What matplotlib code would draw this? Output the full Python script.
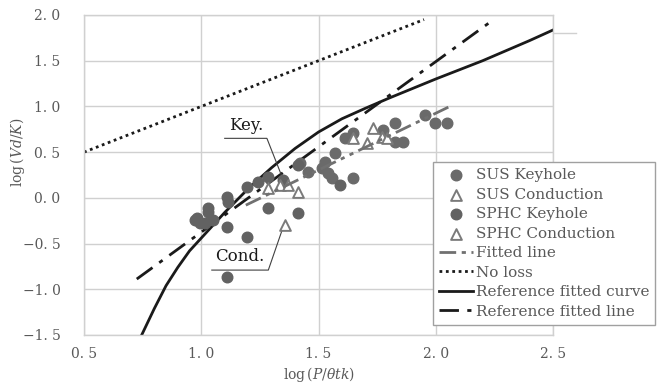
import matplotlib
matplotlib.use("Agg")
import matplotlib.pyplot as plt
import numpy as np

plt.rcParams["font.family"] = ["DejaVu Serif"]
plt.rcParams["mathtext.fontset"] = "dejavuserif"

# keyhole / conduction data, log(P/theta t k) vs log(Vd/K)
sus_key_x = [1.421, 1.456, 1.514, 1.528, 1.570, 1.542, 1.556, 1.613, 1.648, 1.776,
             1.826, 1.826, 1.862, 1.954, 1.997, 2.047, 1.648]
sus_key_y = [0.378, 0.286, 0.323, 0.395, 0.487, 0.268, 0.213, 0.651, 0.706, 0.742,
             0.815, 0.614, 0.614, 0.906, 0.815, 0.815, 0.213]

sphc_key_x = [0.980, 0.995, 1.030, 1.051, 1.016, 0.973, 1.030, 1.108, 1.115, 1.111,
              1.111, 1.194, 1.194, 1.243, 1.286, 1.286, 1.350, 1.414, 1.414, 1.592]
sphc_key_y = [-0.224, -0.280, -0.150, -0.243, -0.280, -0.243, -0.115, 0.012, -0.040, -0.316,
              -0.863, 0.122, -0.425, 0.176, 0.231, -0.115, 0.195, 0.360, -0.170, 0.140]

sus_cond_x = [1.648, 1.734, 1.706, 1.770, 1.790]
sus_cond_y = [0.651, 0.760, 0.596, 0.669, 0.651]

sphc_cond_x = [1.286, 1.336, 1.371, 1.414, 1.357]
sphc_cond_y = [0.104, 0.140, 0.140, 0.067, -0.300]

fit_x = [1.19, 2.06]
fit_y = [-0.08, 1.00]

noloss_x = [0.5, 1.95]
noloss_y = [0.5, 1.95]

ref_line_x = [0.725, 2.244]
ref_line_y = [-0.888, 1.945]

ref_curve_x = [0.746, 0.80, 0.85, 0.90, 0.95, 1.00, 1.10, 1.20, 1.30, 1.40, 1.50,
               1.60, 1.70, 1.80, 1.90, 2.00, 2.10, 2.20, 2.30, 2.40, 2.50]
ref_curve_y = [-1.50, -1.21, -0.96, -0.76, -0.58, -0.44, -0.16, 0.10, 0.33, 0.54, 0.72,
               0.865, 0.98, 1.09, 1.195, 1.30, 1.40, 1.50, 1.61, 1.72, 1.836]

x_ticks = [0.5, 1.0, 1.5, 2.0, 2.5]
x_ticklabels = ["0. 5", "1. 0", "1. 5", "2. 0", "2. 5"]
y_ticks = [-1.5, -1.0, -0.5, 0.0, 0.5, 1.0, 1.5, 2.0]
y_ticklabels = ["\u22121. 5", "\u22121. 0", "\u22120. 5", "0. 0", "0. 5", "1. 0", "1. 5", "2. 0"]

txt = "#595959"
grid_c = "#d0d0d0"

fig = plt.figure(figsize=(6.63, 3.85), dpi=100)
ax = fig.add_axes([84/663, 1 - 335/385, (553-84)/663, 320/385])

ax.scatter(sus_key_x, sus_key_y, s=58, color="#6a6a6a", zorder=4, label="SUS Keyhole")
ax.scatter(sus_cond_x, sus_cond_y, s=60, marker="^", facecolor="white", edgecolor="#7a7a7a",
           linewidth=1.4, zorder=5, label="SUS Conduction")
ax.scatter(sphc_key_x, sphc_key_y, s=58, color="#626262", zorder=4, label="SPHC Keyhole")
ax.scatter(sphc_cond_x, sphc_cond_y, s=60, marker="^", facecolor="white", edgecolor="#7a7a7a",
           linewidth=1.4, zorder=5, label="SPHC Conduction")

ax.plot(fit_x, fit_y, color="#707070", lw=2, linestyle=(0, (6, 2, 1.5, 2, 1.5, 2)),
        zorder=6, label="Fitted line")
ax.plot(noloss_x, noloss_y, color="#1a1a1a", lw=2, linestyle=(0, (1, 1.3)), label="No loss")
ax.plot(ref_curve_x, ref_curve_y, color="#1a1a1a", lw=2, label="Reference fitted curve")
ax.plot(ref_line_x, ref_line_y, color="#1a1a1a", lw=2, linestyle=(0, (7, 3, 1.5, 3)),
        label="Reference fitted line")

# annotations
ax.text(1.19, 0.70, "Key.", fontsize=12, color="#1a1a1a", ha="center", va="bottom")
ax.plot([1.10, 1.28, 1.35], [0.651, 0.651, 0.195], color="#404040", lw=0.8)
ax.text(1.165, -0.73, "Cond.", fontsize=12, color="#1a1a1a", ha="center", va="bottom")
ax.plot([1.045, 1.286, 1.357], [-0.79, -0.79, -0.262], color="#404040", lw=0.8)

# stray gray tick line at right of the plot area
ax.axhline(1.80, xmin=1.0, xmax=1.05, color=grid_c, lw=1, clip_on=False)

ax.set_xlim(0.5, 2.5)
ax.set_ylim(-1.5, 2.0)
ax.set_xticks(x_ticks)
ax.set_xticklabels(x_ticklabels)
ax.set_yticks(y_ticks)
ax.set_yticklabels(y_ticklabels)
ax.tick_params(length=0, labelsize=10, labelcolor=txt)
ax.tick_params(axis="y", pad=17)
ax.tick_params(axis="x", pad=9)
ax.grid(True, color=grid_c, lw=1)
ax.set_axisbelow(True)
for s in ax.spines.values():
    s.set_color(grid_c)
    s.set_linewidth(1)

ax.set_xlabel(r"$\mathrm{log}\,(P/\theta tk)$", fontsize=10, color=txt)
ax.set_ylabel(r"$\mathrm{log}\,(Vd/K)$", fontsize=10, color=txt)
ax.xaxis.set_label_coords(0.5, -0.095)
ax.yaxis.set_label_coords(-0.121, 0.57)

leg = ax.legend(loc="upper left", bbox_to_anchor=(433/663, 1 - 162/385),
                bbox_transform=fig.transFigure, borderaxespad=0, fontsize=11,
                labelcolor=txt, frameon=True, fancybox=False, framealpha=1,
                edgecolor="#a0a0a0", handlelength=2.2, handletextpad=0.2,
                labelspacing=0.36, borderpad=0.4)
leg.get_frame().set_linewidth(1)
leg.set_zorder(10)

fig.savefig("out.png", dpi=100)
